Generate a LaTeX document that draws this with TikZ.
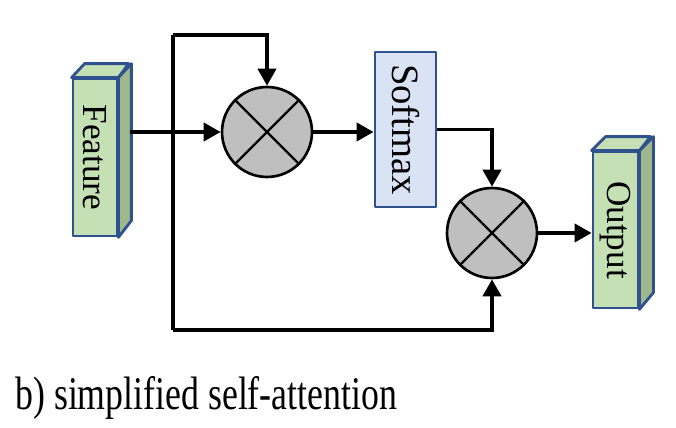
\documentclass[tikz,border=0pt]{standalone}
\usepackage{fontspec}
\setmainfont{Liberation Serif}
\usetikzlibrary{arrows.meta}
\definecolor{boxgreen}{HTML}{C5E0B4}
\definecolor{sidegreen}{HTML}{9FB78C}
\definecolor{boxblue}{HTML}{DAE3F3}
\definecolor{edgeblue}{HTML}{2F528F}
\tikzset{
    arr/.style={-{Triangle[length=0.34cm,width=0.36cm]}, line width=2.2pt},
    line/.style={line width=2.2pt},
    face/.style={draw=edgeblue, line width=1.6pt, line join=round},
    slab/.style={face, inner sep=0pt, font=\fontsize{20}{24}\selectfont},
    mult/.style={circle, draw, fill=gray!50, line width=1.5pt, minimum size=1.8cm, inner sep=0pt},
}
\begin{document}
\begin{tikzpicture}[x=0.02cm, y=-0.02cm]
    \useasboundingbox (0,0) rectangle (676,428);
    % feature and output slabs
    \node (feat) at (95,157.5) [slab, fill=boxgreen, minimum width=0.88cm, minimum height=3.14cm] {\rotatebox{-90}{Feature}};
    \draw[face, fill=boxgreen] (feat.north west) -- ++(13,-14) -- ++(44,0) -- (feat.north east) -- cycle;
    \draw[face, fill=sidegreen] (feat.north east) -- ++(13,-14) -- ++(0,157) -- (feat.south east) -- cycle;
    \node (out) at (615.5,230) [slab, fill=boxgreen, minimum width=0.9cm, minimum height=3.12cm] {\rotatebox{-90}{Output}};
    \draw[face, fill=boxgreen] (out.north west) -- ++(14,-14) -- ++(45,0) -- (out.north east) -- cycle;
    \draw[face, fill=sidegreen] (out.north east) -- ++(14,-14) -- ++(0,156) -- (out.south east) -- cycle;
    \node (soft) at (405.5,129.5) [slab, fill=boxblue, minimum width=1.22cm, minimum height=3.1cm, font=\fontsize{22}{26}\selectfont] {\rotatebox{-90}{Softmax}};
    % the two products
    \node (c1) at (267,132) [mult] {};
    \node (c2) at (492,233) [mult] {};
    \foreach \c in {c1,c2} {
        \draw[line width=1.3pt] (\c.north east) -- (\c.south west);
        \draw[line width=1.3pt] (\c.north west) -- (\c.south east);
    }
    % connectors
    \coordinate (fout) at (130,132);
    \coordinate (top) at (173,35);
    \coordinate (bot) at (173,330);
    \draw[arr] (fout) -- (c1.west);
    \draw[line, line join=miter] (top) -- (bot);
    \draw[arr] (top) -| (c1.north);
    \draw[arr] (bot) -| (c2.south);
    \draw[arr] (c1.east) -- (soft.west |- c1.east);
    \draw[arr] (soft.east) -| (c2.north);
    \draw[arr] (c2.east) -- (out.west |- c2.east);
    \node (cap) at (15,410) [anchor=base west, inner sep=0pt, font=\fontsize{21}{25}\selectfont] {\scalebox{0.97}[1.27]{b) simplified self-attention}};
\end{tikzpicture}
\end{document}
